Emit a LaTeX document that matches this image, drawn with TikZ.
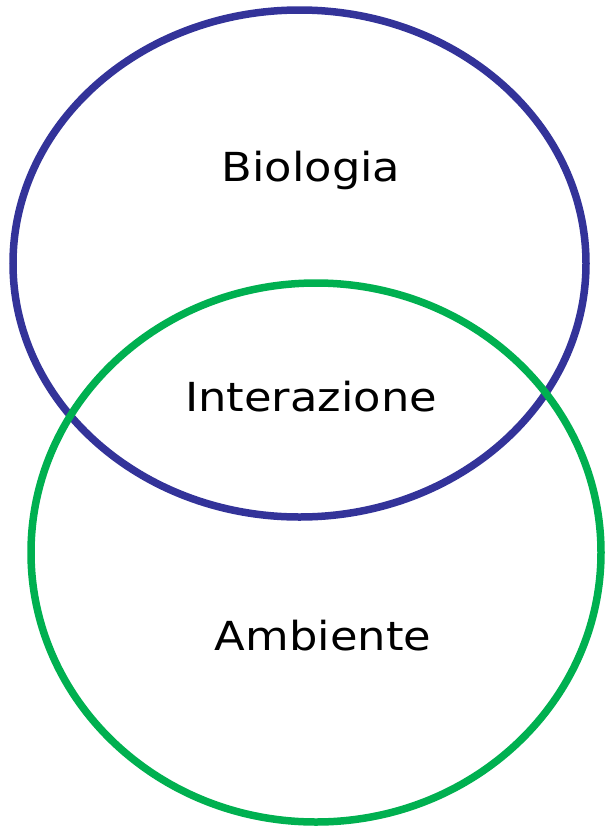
\documentclass[tikz,border=0pt]{standalone}
\usepackage{fontspec}
\setmainfont[FakeStretch=1.12]{DejaVu Sans}
\definecolor{bluering}{HTML}{333399}
\definecolor{greenring}{HTML}{00B050}
\begin{document}
\begin{tikzpicture}[x=1pt,y=-1pt,
  ring/.style={line width=7.5pt},
  lbl/.style={font=\fontsize{40}{48}\selectfont, inner sep=0pt}]
\useasboundingbox (0,0) rectangle (605,828);
\draw[ring, bluering] (299.5,263.5) ellipse [x radius=286.5, y radius=253.5];
\draw[ring, greenring] (316,552.5) ellipse [x radius=285, y radius=269.5];
\node[lbl] (bio) at (311,170) {Biologia};
\node[lbl] (int) at (311,397) {Interazione};
\node[lbl] (amb) at (323,636) {Ambiente};
\end{tikzpicture}
\end{document}
